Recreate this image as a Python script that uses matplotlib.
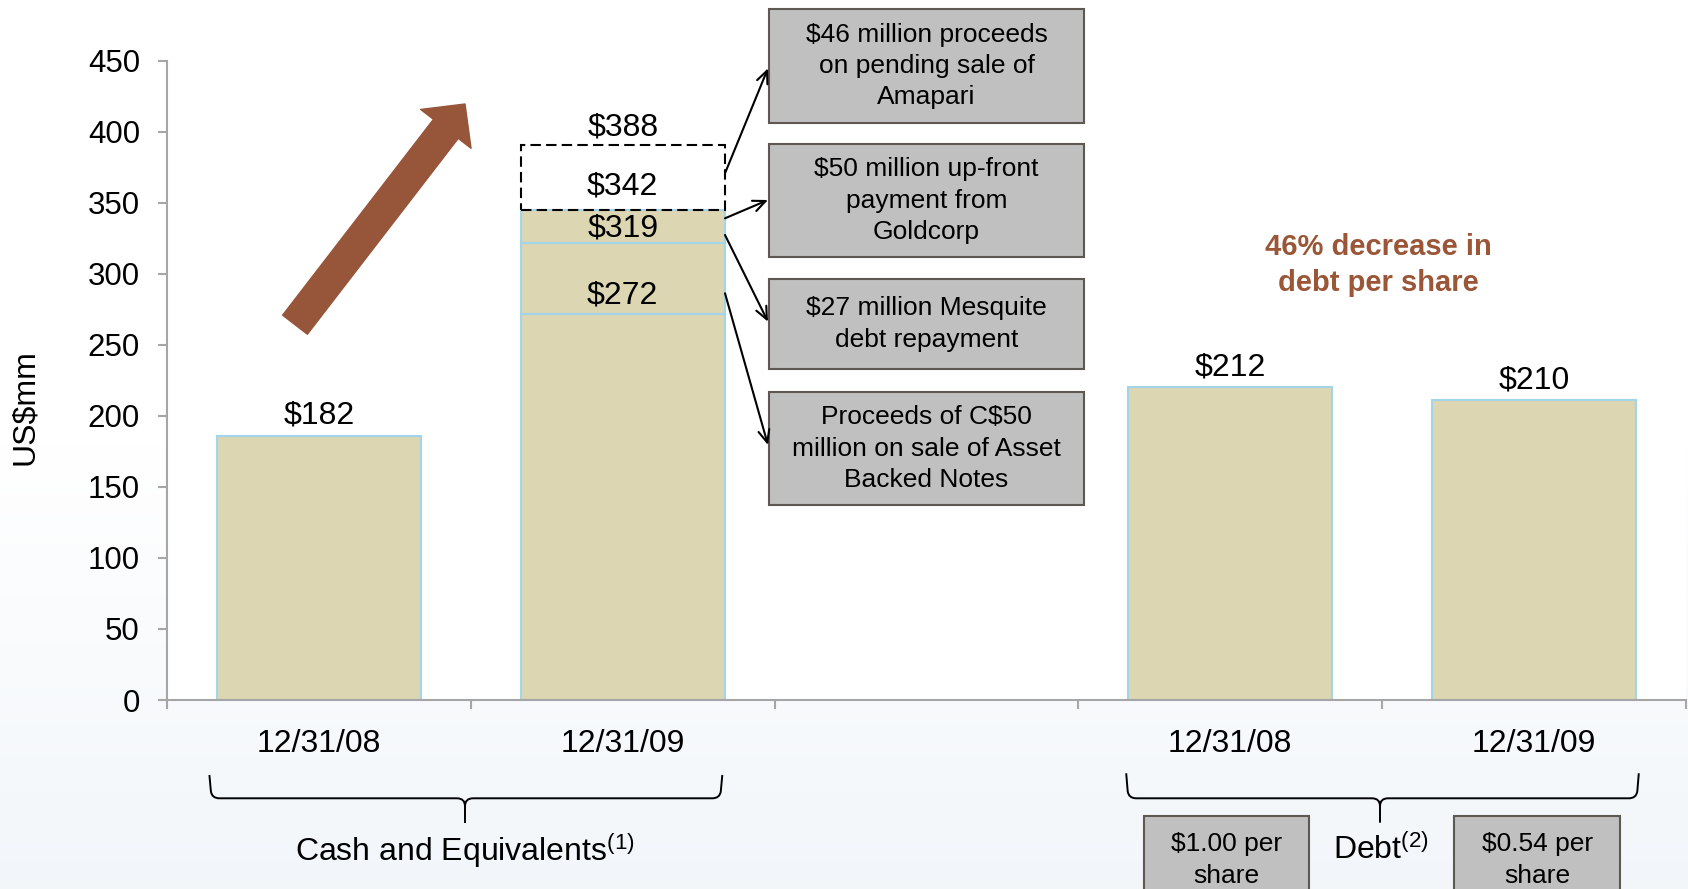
import matplotlib
matplotlib.use('Agg')
import matplotlib.pyplot as plt
import numpy as np
from matplotlib.patches import Rectangle, FancyArrowPatch, PathPatch
from matplotlib.path import Path

plt.rcParams['font.family'] = ['Liberation Sans', 'DejaVu Sans']
plt.rcParams['mathtext.fontset'] = 'custom'
plt.rcParams['mathtext.rm'] = 'Liberation Sans'
plt.rcParams['mathtext.it'] = 'Liberation Sans:italic'
plt.rcParams['mathtext.bf'] = 'Liberation Sans:bold'

# ---- data (US$mm, heights as drawn on the slide) ----
slot_labels = ['12/31/08', '12/31/09', '', '12/31/08', '12/31/09']

cash_08 = 186
cash_08_label = '$182'

cash_09_tops = [272, 322, 345]          # stacked pieces of the 12/31/09 bar
cash_09_pending = 391                   # incl. pending Amapari sale (dashed)
cash_09_labels = ['$272', '$319', '$342', '$388']

debt_pos = [3, 4]
debt_vals = [220, 211]
debt_labels = ['$212', '$210']

notes = ['$46 million proceeds\non pending sale of\nAmapari',
         '$50 million up-front\npayment from\nGoldcorp',
         '$27 million Mesquite\ndebt repayment',
         'Proceeds of C$50\nmillion on sale of Asset\nBacked Notes']
per_share = ['$1.00 per\nshare', '$0.54 per\nshare']

W, H = 1688, 889
face = '#DCD6B2'
edge = '#A3D5EA'
grey = '#A6A6A6'
brown = '#97553A'

fig = plt.figure(figsize=(W / 100, H / 100), dpi=100)

# faint gradient background
bg = fig.add_axes([0, 0, 1, 1], zorder=-5)
t = np.linspace(0, 1, H)[:, None]
ramp = np.clip((t - 0.5) / 0.5, 0, 1)
top_c = np.array([1.0, 1.0, 1.0])
bot_c = np.array([0.95, 0.965, 0.98])
img = top_c + ramp[..., None] * (bot_c - top_c)
bg.imshow(img, aspect='auto', extent=[0, 1, 0, 1])
bg.axis('off')

ax = fig.add_axes([167 / W, 1 - 700 / H, (1686 - 167) / W, (700 - 60.7) / H])
ax.set_facecolor('white')
ax.set_xlim(-0.5, 4.5)
ax.set_ylim(0, 450)

bw = 0.672
ax.bar(0, cash_08, bw, color=face, edgecolor=edge, lw=1.5)
bottoms = [0] + cash_09_tops[:-1]
heights = np.diff([0] + cash_09_tops)
ax.bar([1] * len(heights), heights, bw, bottom=bottoms, color=face, edgecolor=edge, lw=1.5)
ax.bar(1, cash_09_pending - cash_09_tops[-1], bw, bottom=cash_09_tops[-1], fill=False,
       edgecolor='black', lw=1.5, ls=(0, (5, 2.5)))
ax.bar(debt_pos, debt_vals, bw, color=face, edgecolor=edge, lw=1.5)

lab_kw = dict(textcoords='offset points', ha='center', va='center', fontsize=23)
ax.annotate(cash_08_label, (0, cash_08), xytext=(0, 14.4), **lab_kw)
stack_offsets = [13, 10, 16.6, 12]      # label lift above each boundary, points
for v, s, off in zip(cash_09_tops + [cash_09_pending], cash_09_labels, stack_offsets):
    ax.annotate(s, (1, v), xytext=(0, off), **lab_kw)
for p, v, s in zip(debt_pos, debt_vals, debt_labels):
    ax.annotate(s, (p, v), xytext=(0, 14.4), **lab_kw)

for sp in ['top', 'right']:
    ax.spines[sp].set_visible(False)
for sp in ['left', 'bottom']:
    ax.spines[sp].set_color(grey)
    ax.spines[sp].set_linewidth(1.5)

ax.set_yticks(range(0, 451, 50))
ax.tick_params(axis='y', length=6.5, width=1.5, color=grey, pad=13, labelsize=22.5)
ax.set_xticks(range(5))
ax.set_xticklabels(slot_labels)
ax.tick_params(axis='x', which='major', length=0, pad=21, labelsize=23)
ax.set_xticks(np.arange(-0.5, 4.6, 1), minor=True)
ax.tick_params(axis='x', which='minor', length=6.5, width=1.5, color=grey)

fig.text(25 / W, 1 - 407 / H, 'US$mm', rotation=90, ha='center', va='center', fontsize=23)

# overlay in pixel coordinates for the slide decorations
ov = fig.add_axes([0, 0, 1, 1], zorder=3)
ov.set_xlim(0, W)
ov.set_ylim(H, 0)
ov.axis('off')

box_y = [(9.3, 122.7), (144, 257.3), (279, 369), (392.3, 505)]
for (y0, y1), txt in zip(box_y, notes):
    ov.add_patch(Rectangle((769, y0), 315, y1 - y0, fc='#C0C0C0', ec='#5E5852', lw=1.5))
    ov.text(926.5, (y0 + y1) / 2, txt, ha='center', va='center', fontsize=19, linespacing=1.38)

arrow_pts = [(173.3, 68.3), (218.3, 200), (235, 321.7), (293.3, 445)]
for ys, ye in arrow_pts:
    ov.annotate('', xy=(768, ye), xytext=(725, ys),
                arrowprops=dict(arrowstyle='->,head_length=0.9,head_width=0.4', lw=1.5,
                                color='black', shrinkA=0, shrinkB=0))

big = FancyArrowPatch((295, 324.7), (465, 104),
                      arrowstyle='simple,head_length=22.6,head_width=45.8,tail_width=22.5',
                      mutation_scale=1, color=brown, shrinkA=0, shrinkB=0)
ov.add_patch(big)

ov.text(1378, 265, '46% decrease in\ndebt per share', ha='center', va='center', fontsize=21,
        fontweight='bold', color='#9A5637', linespacing=1.35)


def brace(x0, x1, xm, ytop, ymid, ybot):
    verts = [(x0, ytop), (x0 + 1.5, ymid - 7), (x0 + 2.5, ymid), (x0 + 10, ymid),
             (xm - 8, ymid), (xm, ymid), (xm, ymid + 8), (xm, ybot),
             (xm, ymid + 8), (xm, ymid), (xm + 8, ymid),
             (x1 - 10, ymid), (x1 - 2.5, ymid), (x1 - 1.5, ymid - 7), (x1, ytop)]
    codes = [Path.MOVETO, Path.LINETO, Path.CURVE3, Path.CURVE3,
             Path.LINETO, Path.CURVE3, Path.CURVE3, Path.LINETO,
             Path.MOVETO, Path.CURVE3, Path.CURVE3,
             Path.LINETO, Path.CURVE3, Path.CURVE3, Path.LINETO]
    ov.add_patch(PathPatch(Path(verts, codes), fill=False, lw=1.4, ec='black'))


brace(209.4, 722.3, 465, 775, 798.3, 823)
brace(1126.2, 1638.8, 1380, 773.3, 798.3, 822.7)

ov.text(465, 850, r'Cash and Equivalents$^{(1)}$', ha='center', va='center', fontsize=23)
ov.text(1381, 850, r'Debt$^{(2)}$', ha='center', va='center', fontsize=23)

for (x0, x1), txt in zip([(1144.2, 1309.2), (1454.3, 1620)], per_share):
    ov.add_patch(Rectangle((x0, 816), x1 - x0, 120, fc='#C0C0C0', ec='#5E5852', lw=1.5))
    ov.text((x0 + x1) / 2, 860, txt, ha='center', va='center', fontsize=19, linespacing=1.38)

fig.savefig('out.png', dpi=100)
